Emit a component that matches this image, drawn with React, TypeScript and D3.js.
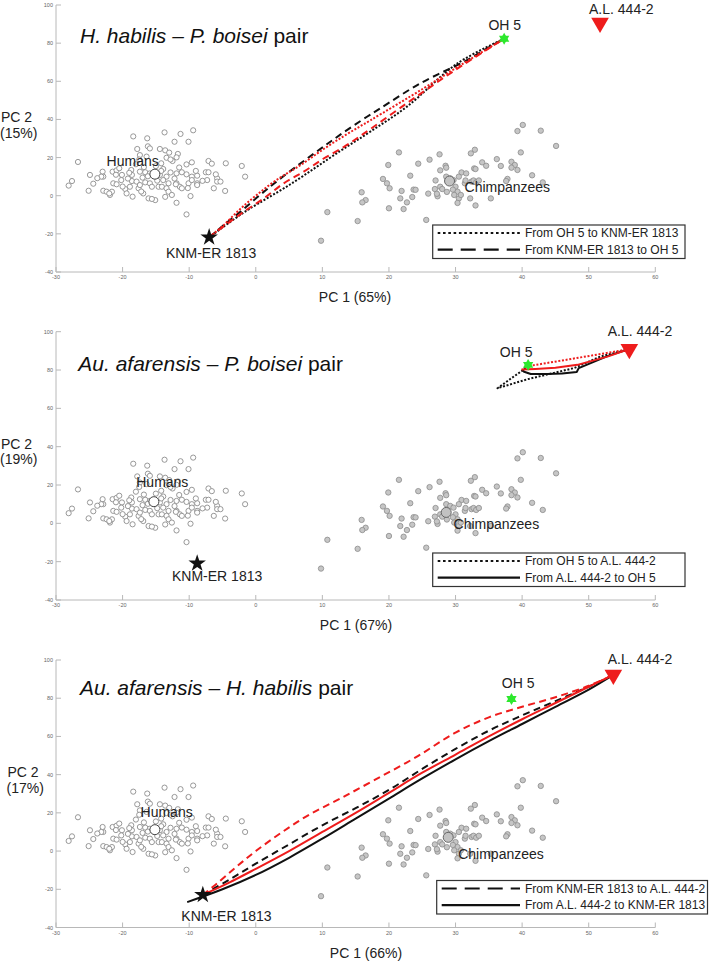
import React from "react";
import * as d3 from "d3";

const W = 709;
const H = 962;
const FONT = "'Liberation Sans', Arial, Helvetica, sans-serif";

// PC1 / PC2 scores of the extant reference samples
const humans: [number, number][] = [
  [-13.7, 33.2], [-11.3, 32.4], [-9.4, 34.3], [-18.4, 31.1], [-16.3, 30.1], [-12.2, 28.3], [-10.1, 28.3],
  [-17.8, 24.5], [-16.2, 25.9], [-15.9, 24.8], [-14.4, 24.5], [-13.6, 23.8], [-13.0, 22.6], [-11.7, 21.9],
  [-11.9, 20.1], [-17.4, 21.3], [-16.4, 20.5], [-13.4, 19.9], [-12.5, 18.2], [-10.4, 16.4], [-9.6, 17.5],
  [-7.1, 18.2], [-6.6, 16.8], [-4.5, 17.0], [-2.1, 15.6], [-26.7, 17.7], [-24.9, 10.9], [-23.0, 12.6],
  [-22.9, 10.0], [-21.5, 12.6], [-20.9, 13.3], [-20.5, 14.4], [-20.1, 10.9], [-18.7, 13.5], [-18.6, 10.9],
  [-17.4, 12.6], [-16.6, 12.3], [-15.9, 11.7], [-14.4, 10.9], [-13.9, 14.0], [-13.4, 10.0], [-11.9, 11.7],
  [-11.1, 12.3], [-10.4, 11.2], [-9.6, 10.0], [-8.8, 10.5], [-7.5, 12.3], [-7.1, 12.3], [-5.8, 9.1],
  [-1.6, 10.0], [-28.1, 5.3], [-27.6, 7.7], [-25.1, 2.6], [-22.9, 2.6], [-22.4, 2.1], [-21.9, 0.4],
  [-21.6, 2.1], [-21.4, 6.5], [-20.9, 6.0], [-19.6, 3.5], [-18.9, 4.7], [-18.6, 7.7], [-17.9, 7.4],
  [-17.6, 3.9], [-17.4, 5.6], [-16.6, 7.0], [-15.9, 6.5], [-15.6, 4.7], [-14.6, 4.7], [-14.1, 4.7],
  [-13.9, 8.2], [-13.1, 6.5], [-13.4, 3.9], [-13.1, 2.1], [-12.6, 0.4], [-11.9, 6.5], [-11.4, 4.7],
  [-11.1, 3.9], [-10.1, 6.5], [-9.6, 8.2], [-8.8, 6.5], [-8.8, 5.6], [-7.3, 8.2], [-5.8, 7.4],
  [-5.3, 7.4], [-6.3, 3.9], [-4.6, 2.5], [-19.4, 1.2], [-18.5, -0.5], [-16.9, 1.2], [-16.1, -1.4],
  [-15.1, -2.3], [-15.6, -1.7], [-11.9, -3.7], [-9.8, -0.2], [-10.4, -9.8], [-17.0, 9.5], [-16.2, 10.2],
  [-19.2, 9.0], [-20.2, 8.2], [-14.2, 13.0], [-12.2, 9.0], [-19.0, 12.0], [-21.0, 11.0], [-23.2, 10.0],
  [-22.0, 1.2], [-15.0, 15.5], [-14.2, 17.0], [-12.8, 19.0], [-17.5, 19.0], [-12.0, 6.0], [-8.0, 7.8],
  [-10.2, 4.0], [-18.0, 16.5], [-16.8, 15.0], [-11.5, 14.8], [-9.0, 13.0], [-20.0, 4.8], [-23.8, 9.2],
  [-14.8, 7.9], [-12.8, 12.2], [-17.2, 2.2], [-13.6, -0.6], [-6.0, 11.2], [-24.4, 6.3],
];

const chimps: [number, number][] = [
  [40.1, 37.1], [39.3, 33.9], [42.8, 34.1], [45.1, 26.1], [32.9, 24.1], [32.3, 22.2], [39.8, 22.7],
  [21.5, 22.7], [26.1, 18.9], [27.6, 21.7], [19.9, 16.1], [24.4, 16.8], [28.5, 15.7], [28.6, 14.7],
  [34.0, 17.5], [34.6, 15.7], [36.2, 19.2], [36.8, 15.6], [38.4, 17.8], [38.9, 16.1], [38.4, 14.7],
  [39.3, 13.5], [32.8, 14.3], [33.0, 14.0], [30.9, 12.2], [31.6, 11.7], [27.7, 13.3], [23.2, 10.5],
  [19.1, 8.8], [19.7, 6.5], [20.1, 3.9], [15.9, 1.8], [16.5, -2.3], [16.0, -3.5], [20.0, -6.6],
  [21.9, 2.5], [21.7, -1.4], [22.2, -7.0], [22.7, -3.5], [23.5, -0.7], [23.7, 3.2], [24.0, 3.1],
  [25.9, 1.1], [26.9, 3.5], [27.3, -0.3], [27.7, 4.7], [28.0, 3.5], [28.6, 10.0], [29.2, 9.1],
  [29.7, 8.2], [30.0, 4.7], [30.3, 2.1], [29.8, 0.4], [30.5, -1.4], [30.8, 0.4], [30.3, -3.8],
  [31.4, 6.5], [31.5, 8.0], [32.4, 7.4], [32.7, 8.0], [33.1, 7.0], [33.5, 8.0], [32.2, -1.4],
  [33.0, -5.1], [35.3, -1.4], [37.8, 8.8], [37.6, 7.7], [41.5, 10.7], [43.1, 7.0], [15.3, -13.3],
  [25.6, -12.7], [27.0, 8.0], [30.5, 10.0], [29.6, 3.2], [28.7, 2.0], [27.2, 1.0], [9.8, -23.6],
  [10.75, -8.6],
];

const xTicks = [-30, -20, -10, 0, 10, 20, 30, 40, 50, 60];
const yTicks = [-40, -20, 0, 20, 40, 60, 80, 100];

// fossil specimens and group means, one entry per panel
const knmER1813: [number, number][] = [[-7, -21.8], [-8.8, -20.9], [-7.95, -22.9]];
const oh5: [number, number][] = [[37.3, 82.3], [40.9, 82.7], [38.4, 79.6]];
const al4442: [number, number][] = [[51.7, 90.7], [56.1, 90.9], [53.7, 92.2]];
const humanMean: [number, number][] = [[-15.15, 11.3], [-15.3, 11.3], [-15.15, 11.2]];
const chimpMean: [number, number][] = [[29.1, 7.7], [28.6, 5.7], [28.9, 7.2]];

const pc1Share = ["65%", "67%", "66%"];
const pc2Share = ["15%", "19%", "17%"];

// text anchors in PC units: [label, pc1, pc2, anchor]
const specimenLabels: [string, number, number, string][][] = [
  [["KNM-ER 1813", -6.7, -32.7, "middle"], ["OH 5", 37.4, 86.9, "middle"], ["A.L. 444-2", 54.9, 95.5, "middle"],
   ["Humans", -22.4, 15.7, "start"], ["Chimpanzees", 31.35, 1.8, "start"]],
  [["KNM-ER 1813", -5.8, -30.1, "middle"], ["OH 5", 39.1, 87, "middle"], ["A.L. 444-2", 57.7, 97.5, "middle"],
   ["Humans", -17.95, 18.8, "start"], ["Chimpanzees", 29.7, -3.1, "start"]],
  [["KNM-ER 1813", -4.4, -36.4, "middle"], ["OH 5", 39.4, 85.2, "middle"], ["A.L. 444-2", 57.7, 97.8, "middle"],
   ["Humans", -17.3, 17.8, "start"], ["Chimpanzees", 30.4, -4.0, "start"]],
];

// morphing trajectories, H. habilis – P. boisei
const p1BlackDotted: [number, number][] = [
  [37.3, 82.3], [30.3, 69.4], [22.7, 46.7], [17.2, 33.6], [12.7, 23.5], [5.2, 6], [-1, -7], [-3.1, -11.9], [-7, -21.8],
];
const p1BlackDashed: [number, number][] = [
  [-7, -21.8], [-4.5, -14.5], [-2.3, -8.4], [0.5, 0], [3.4, 8.2], [8.9, 22.5], [12.7, 32], [16.7, 41.4],
  [18.7, 45.8], [24.7, 58.9], [31.8, 71.2], [34.3, 76.4], [37.3, 82.3],
];
const p1RedDotted: [number, number][] = [
  [-7, -21.8], [-5, -16], [-2.5, -7.5], [0, 0], [3, 8], [6.7, 16], [10.2, 24.5], [13.7, 32.3],
  [17.2, 39.5], [25.2, 56.3], [31, 69], [37.3, 82.3],
];
const p1RedDashed: [number, number][] = [
  [-7, -21.8], [-4, -14], [-1.8, -8.4], [1.2, -1.4], [4.2, 6.5], [7.2, 12.6], [10.2, 19.5], [13.2, 25.5],
  [16, 32], [22.7, 48.5], [30, 66], [37.3, 82.3],
];

// Au. afarensis – P. boisei
const p2BlackDotted: [number, number][] = [
  [40.9, 82.7], [40.2, 80.1], [38.3, 75.5], [36.3, 70.5], [40.8, 75.2], [47.8, 81], [51.8, 87.1], [56.1, 90.9],
];
const p2BlackSolid: [number, number][] = [
  [56.1, 90.9], [53, 87.5], [50.3, 83.6], [48.5, 81], [48.2, 79], [46, 78.2], [43.8, 77.9], [41.3, 77.9],
  [40.3, 79.1], [40, 80.3],
];
const p2RedDotted: [number, number][] = [[40.5, 81.8], [48.8, 86.6], [56.1, 90.9]];
const p2RedSolid: [number, number][] = [
  [39.9, 80.3], [42, 80.6], [45, 81.2], [48.3, 82.7], [52.8, 87], [56.1, 90.9],
];

// Au. afarensis – H. habilis
const p3BlackSolid: [number, number][] = [
  [-10.3, -26.7], [-5, -20], [0, -12.5], [5, -3.5], [10, 6.5], [15, 17], [20, 27.5], [25, 38], [30, 48],
  [35, 57.5], [40, 66.5], [45, 75.5], [50, 84.5], [53.7, 92.2],
];
const p3RedSolid: [number, number][] = [
  [-8, -23], [-4, -16.5], [0, -9.3], [5, 0], [10, 10], [15, 20], [20, 30.5], [25, 41], [30, 50.5],
  [35, 60], [40, 69], [45, 77.5], [50, 86], [53.7, 92.2],
];
const p3BlackDashed: [number, number][] = [
  [-8, -23], [-4, -15], [0, -6.6], [5, 3.5], [10, 13.5], [15, 22.5], [20, 32], [25, 43], [30, 53.5],
  [35, 63], [40, 71], [45, 78.5], [50, 86], [53.7, 92.2],
];
const p3RedDashed: [number, number][] = [
  [-8, -23], [-6, -17.5], [-3, -8.5], [0, 0], [4, 10], [8, 19], [12.7, 27.5], [18, 37.5], [24, 49],
  [30, 62], [35, 70], [40, 75.5], [45, 80.5], [50, 86.5], [53.7, 92.2],
];

const legendText = [
  ["From OH 5 to KNM-ER 1813", "From KNM-ER 1813 to OH 5"],
  ["From OH 5 to A.L. 444-2", "From A.L. 444-2 to OH 5"],
  ["From KNM-ER 1813 to A.L. 444-2", "From A.L. 444-2 to KNM-ER 1813"],
];

const RED = "#ee1c1c";
const GREEN = "#2de82d";

type Traj = { pts: [number, number][]; color: string; style: string };

const panels = [
  {
    top: 5, bottom: 272, titleX: 80, titleDy: 38.3, pc1X: 355, pc2X: 1,
    title: [["H. habilis – P. boisei", true], [" pair", false]],
    legendX: [432.7, 685], legendStyle: ["dotted", "dashed"],
    traj: [
      { pts: p1BlackDotted, color: "#111", style: "dotted" },
      { pts: p1BlackDashed, color: "#111", style: "dashed" },
      { pts: p1RedDotted, color: RED, style: "dotted" },
      { pts: p1RedDashed, color: RED, style: "dashed" },
    ] as Traj[],
    curve: d3.curveCatmullRom,
  },
  {
    top: 331.7, bottom: 600, titleX: 78.3, titleDy: 39, pc1X: 356, pc2X: 1,
    title: [["Au. afarensis – P. boisei", true], [" pair", false]],
    legendX: [432.7, 685], legendStyle: ["dotted", "solid"],
    traj: [
      { pts: p2BlackDotted, color: "#111", style: "dotted" },
      { pts: p2BlackSolid, color: "#111", style: "solid" },
      { pts: p2RedDotted, color: RED, style: "dotted" },
      { pts: p2RedSolid, color: RED, style: "solid" },
    ] as Traj[],
    curve: d3.curveLinear,
  },
  {
    top: 660, bottom: 927.5, titleX: 80, titleDy: 35, pc1X: 366, pc2X: 7.5,
    title: [["Au. afarensis – H. habilis", true], [" pair", false]],
    legendX: [436.7, 707.5], legendStyle: ["dashed", "solid"],
    traj: [
      { pts: p3BlackSolid, color: "#111", style: "solid" },
      { pts: p3BlackDashed, color: "#111", style: "dashed" },
      { pts: p3RedSolid, color: RED, style: "solid" },
      { pts: p3RedDashed, color: RED, style: "dashed" },
    ] as Traj[],
    curve: d3.curveCatmullRom,
  },
];

const dashFor = (style: string, legend = false) => {
  if (style === "dotted") return legend ? "2.6 2.7" : "2 1.7";
  if (style === "dashed") return legend ? "15 8" : "7 4.5";
  return undefined;
};

const starPath = d3.symbol().type(d3.symbolStar).size(95)() as string;
const triPath = d3.symbol().type(d3.symbolTriangle).size(46)() as string;
const bigTriPath = d3.symbol().type(d3.symbolTriangle).size(135)() as string;

function Panel({ idx }: { idx: number }) {
  const p = panels[idx];
  const x = d3.scaleLinear().domain([-30, 60]).range([56, 655.3]);
  const y = d3.scaleLinear().domain([-40, 100]).range([p.bottom, p.top]);
  const line = d3.line<[number, number]>().x((d) => x(d[0])).y((d) => y(d[1])).curve(p.curve);
  const [lx0, lx1] = p.legendX;
  const ly0 = p.bottom - 47;
  const ly1 = p.bottom - 13.5;

  return (
    <g>
      {/* axes */}
      <line x1={x(-30)} x2={x(60)} y1={p.bottom} y2={p.bottom} stroke="#b8b8b8" strokeWidth={1} />
      <line x1={x(-30)} x2={x(-30)} y1={p.bottom} y2={p.top} stroke="#b8b8b8" strokeWidth={1} />
      {xTicks.map((t) => (
        <g key={"x" + t}>
          <line x1={x(t)} x2={x(t)} y1={p.bottom} y2={p.bottom - 5} stroke="#b8b8b8" />
          <text x={x(t)} y={p.bottom + 7} fontSize={5.5} fill="#666" textAnchor="middle">{t}</text>
        </g>
      ))}
      {yTicks.map((t) => (
        <g key={"y" + t}>
          <line x1={x(-30)} x2={x(-30) + 5} y1={y(t)} y2={y(t)} stroke="#b8b8b8" />
          <text x={x(-30) - 3} y={y(t) + 2} fontSize={5.5} fill="#666" textAnchor="end">{t}</text>
        </g>
      ))}
      <text x={p.pc1X} y={p.bottom + 30} fontSize={14} textAnchor="middle" fill="#222">{"PC 1 (" + pc1Share[idx] + ")"}</text>
      <text x={p.pc2X} y={p.top + 117} fontSize={14} fill="#222">PC 2</text>
      <text x={p.pc2X - 1} y={p.top + 132.5} fontSize={14} fill="#222">{"(" + pc2Share[idx] + ")"}</text>

      {/* title */}
      <text x={p.titleX} y={p.top + p.titleDy} fontSize={21} fill="#111">
        {p.title.map(([s, it], k) => (
          <tspan key={k} fontStyle={it ? "italic" : "normal"}>{s as string}</tspan>
        ))}
      </text>

      {/* reference samples */}
      {humans.map((d, k) => (
        <circle key={"h" + k} cx={x(d[0])} cy={y(d[1])} r={2.6} fill="#fff" stroke="#8c8c8c" strokeWidth={0.9} />
      ))}
      {chimps.map((d, k) => (
        <circle key={"c" + k} cx={x(d[0])} cy={y(d[1])} r={2.7} fill="#c6c6c6" stroke="#8c8c8c" strokeWidth={0.8} />
      ))}
      <circle cx={x(humanMean[idx][0])} cy={y(humanMean[idx][1])} r={5} fill="#fff" stroke="#444" strokeWidth={1} />
      <circle cx={x(chimpMean[idx][0])} cy={y(chimpMean[idx][1])} r={5} fill="#c2c2c2" stroke="#666" strokeWidth={1} />

      {/* trajectories */}
      {p.traj.map((t, k) => (
        <path key={"t" + k} d={line(t.pts) as string} fill="none" stroke={t.color} strokeWidth={2}
          strokeDasharray={dashFor(t.style)} strokeLinejoin="round" />
      ))}

      {/* specimens */}
      <path d={starPath} transform={`translate(${x(knmER1813[idx][0])},${y(knmER1813[idx][1])})`} fill="#111" />
      <g transform={`translate(${x(oh5[idx][0])},${y(oh5[idx][1])})`} fill={GREEN}>
        <path d={triPath} />
        <path d={triPath} transform="rotate(180)" />
      </g>
      <path d={bigTriPath} transform={`translate(${x(al4442[idx][0])},${y(al4442[idx][1])}) rotate(180)`} fill={RED} />

      {specimenLabels[idx].map(([s, a, b, anchor]) => (
        <text key={s} x={x(a)} y={y(b)} fontSize={14} textAnchor={anchor} fill="#222">{s}</text>
      ))}

      {/* legend */}
      <rect x={lx0} y={ly0} width={lx1 - lx0} height={ly1 - ly0} fill="#fff" stroke="#333" strokeWidth={1.2} />
      {legendText[idx].map((s, k) => {
        const ry = ly0 + (k === 0 ? 8 : 24.6);
        return (
          <g key={"l" + k}>
            <line x1={lx0 + 5} x2={520} y1={ry} y2={ry} stroke="#111" strokeWidth={2.2}
              strokeDasharray={dashFor(p.legendStyle[k], true)} />
            <text x={525} y={ry + 4.2} fontSize={12} fill="#222">{s}</text>
          </g>
        );
      })}
    </g>
  );
}

export default function App() {
  return (
    <svg width={W} height={H} fontFamily={FONT}
      style={{ position: "absolute", left: 0, top: 0, background: "#fff" }}>
      {panels.map((_, i) => <Panel key={i} idx={i} />)}
    </svg>
  );
}
